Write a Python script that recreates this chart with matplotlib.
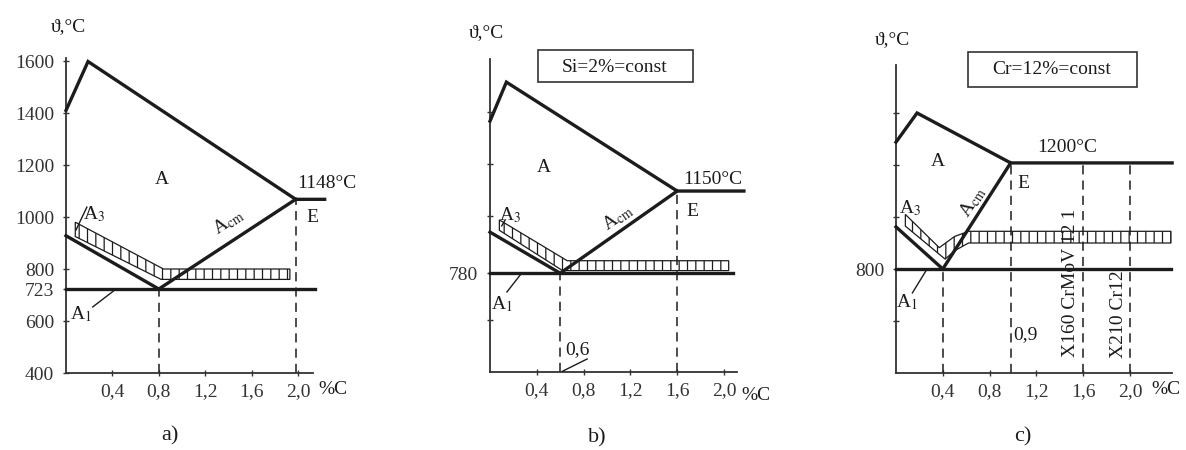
import matplotlib
matplotlib.use("Agg")
import matplotlib.pyplot as plt
from matplotlib.patches import Rectangle

plt.rcParams['font.family'] = ['Liberation Serif', 'DejaVu Serif']
plt.rcParams['mathtext.fontset'] = 'stix'
plt.rcParams['hatch.linewidth'] = 0.9

W, H = 1186, 450
PX_T = 0.26          # pixels per degree on every panel
FS = 14
INK = '#1c1c1c'
GREY = '#333333'
DASH = (0, (6, 4))

x_ticks = [0.4, 0.8, 1.2, 1.6, 2.0]
x_tick_labels = ['0,4', '0,8', '1,2', '1,6', '2,0']

# a) plain carbon steel
a_y_ticks = [400, 600, 723, 800, 1000, 1200, 1400, 1600]
a_y_labels = ['400', '600', '723', '800', '1000', '1200', '1400', '1600']
a_top_c = [0, 0.19, 1.98, 2.23]
a_top_t = [1410, 1598, 1068, 1068]
a_a3_c = [0, 0.8, 1.98]
a_a3_t = [928, 723, 1068]
a_a1_c = [0, 2.15]
a_a1_t = [723, 723]
a_dash_c = [0.8, 1.98]
a_dash_t = [723, 1068]
a_band_top_c = [0.08, 0.84, 1.93]
a_band_top_t = [980, 800, 800]
a_band_bot_c = [0.08, 0.82, 1.93]
a_band_bot_t = [925, 760, 760]

# b) Si = 2 %
b_y_ticks = [600, 780, 1000, 1200, 1400]
b_y_labels = ['', '780', '', '', '']
b_top_c = [0, 0.14, 1.6, 2.17]
b_top_t = [1365, 1515, 1096, 1096]
b_a3_c = [0, 0.6, 1.6]
b_a3_t = [938, 780, 1096]
b_a1_c = [0, 2.08]
b_a1_t = [780, 780]
b_dash_c = [0.6, 1.6]
b_dash_t = [780, 1096]
b_band_top_c = [0.08, 0.66, 2.04]
b_band_top_t = [985, 828, 828]
b_band_bot_c = [0.08, 0.62, 2.04]
b_band_bot_t = [945, 790, 790]

# c) Cr = 12 %
c_y_ticks = [600, 800, 1000, 1200, 1400]
c_y_labels = ['', '800', '', '', '']
c_top_c = [0, 0.18, 0.98, 2.36]
c_top_t = [1288, 1400, 1208, 1208]
c_a3_c = [0, 0.4, 0.98]
c_a3_t = [962, 800, 1208]
c_a1_c = [0, 2.35]
c_a1_t = [800, 800]
c_dash_c = [0.4, 0.98, 1.6, 2.0]
c_dash_t = [800, 1208, 1208, 1208]
c_band_top_c = [0.08, 0.37, 0.5, 0.62, 2.35]
c_band_top_t = [1010, 882, 925, 945, 945]
c_band_bot_c = [0.08, 0.42, 0.5, 0.62, 2.35]
c_band_bot_t = [965, 838, 870, 900, 900]

fig = plt.figure(figsize=(W / 100, H / 100), dpi=100)


def make_axes(x0, y0, px_c, xmax, ymax, yticks, ylabels):
    ax = fig.add_axes([x0 / W, (H - y0) / H, xmax * px_c / W, (ymax - 400) * PX_T / H])
    ax.set_xlim(0, xmax)
    ax.set_ylim(400, ymax)
    ax.patch.set_alpha(0)
    for s in ['top', 'right']:
        ax.spines[s].set_visible(False)
    for s in ['left', 'bottom']:
        ax.spines[s].set_linewidth(1.3)
        ax.spines[s].set_color(GREY)
    ax.set_xticks(x_ticks)
    ax.set_xticklabels(x_tick_labels)
    ax.set_yticks(yticks)
    ax.set_yticklabels(ylabels)
    ax.tick_params(direction='inout', length=5, width=1, labelsize=FS,
                   colors=GREY)
    ax.tick_params(axis='x', pad=5)
    ax.tick_params(axis='y', pad=6)
    return ax


def draw(ax, top_c, top_t, a3_c, a3_t, a1_c, a1_t, dash_c, dash_t,
         btc, btt, bbc, bbt):
    ax.fill(btc + bbc[::-1], btt + bbt[::-1], facecolor='white',
            edgecolor=INK, hatch='||', lw=0.9, zorder=2, clip_on=False)
    ax.vlines(dash_c, 400, dash_t, colors=INK, linestyles=DASH, lw=1.1, zorder=2)
    for c, t in [(top_c, top_t), (a3_c, a3_t), (a1_c, a1_t)]:
        ax.plot(c, t, color=INK, lw=2.4, clip_on=False, zorder=3,
                solid_joinstyle='miter')


def leader(ax, c, t):
    ax.plot(c, t, color=INK, lw=1.0, clip_on=False, zorder=3)


def label(ax, c, t, s, **kw):
    kw.setdefault('fontsize', FS)
    ax.text(c, t, s, ha='center', va='center', color=INK, **kw)


ACM = r'A$_{\mathrm{cm}}$'

# ---- a)
ax = make_axes(66, 373, 116, 2.13, 1612, a_y_ticks, a_y_labels)
draw(ax, a_top_c, a_top_t, a_a3_c, a_a3_t, a_a1_c, a_a1_t, a_dash_c, a_dash_t,
     a_band_top_c, a_band_top_t, a_band_bot_c, a_band_bot_t)
label(ax, 0.83, 1146, 'A')
label(ax, 1.40, 980, ACM, rotation=33)
label(ax, 0.24, 1012, r'A$_3$')
leader(ax, [0.086, 0.18], [950, 1038])
label(ax, 0.13, 625, r'A$_1$')
leader(ax, [0.23, 0.42], [654, 719])
label(ax, 2.12, 1000, 'E')
label(ax, 2.25, 1127, '1148°C')
label(ax, 2.30, 335, '%C')

# ---- b)
ax = make_axes(490, 372, 117, 2.11, 1605, b_y_ticks, b_y_labels)
draw(ax, b_top_c, b_top_t, b_a3_c, b_a3_t, b_a1_c, b_a1_t, b_dash_c, b_dash_t,
     b_band_top_c, b_band_top_t, b_band_bot_c, b_band_bot_t)
label(ax, 0.46, 1185, 'A')
label(ax, 1.09, 995, ACM, rotation=35)
label(ax, 0.17, 1002, r'A$_3$')
leader(ax, [0.10, 0.13], [962, 985])
label(ax, 0.10, 660, r'A$_1$')
leader(ax, [0.145, 0.27], [708, 780])
label(ax, 1.73, 1018, 'E')
label(ax, 1.90, 1140, '1150°C')
label(ax, 0.75, 487, '0,6')
leader(ax, [0.62, 0.83], [403, 450])
label(ax, 2.27, 310, '%C')
fig.patches.append(Rectangle((538 / W, 1 - 82 / H), 155 / W, 32 / H,
                             transform=fig.transFigure, fill=False,
                             edgecolor=GREY, lw=1.2))
fig.text(615 / W, 1 - 67 / H, 'Si=2%=const', ha='center', va='center',
         fontsize=FS, color=INK)

# ---- c)
ax = make_axes(896, 373, 117, 2.36, 1585, c_y_ticks, c_y_labels)
draw(ax, c_top_c, c_top_t, c_a3_c, c_a3_t, c_a1_c, c_a1_t, c_dash_c, c_dash_t,
     c_band_top_c, c_band_top_t, c_band_bot_c, c_band_bot_t)
label(ax, 0.36, 1212, 'A')
label(ax, 0.66, 1058, ACM, rotation=57)
label(ax, 0.12, 1035, r'A$_3$')
label(ax, 0.09, 673, r'A$_1$')
leader(ax, [0.14, 0.26], [708, 796])
label(ax, 1.09, 1130, 'E')
label(ax, 1.46, 1269, '1200°C')
label(ax, 1.11, 546, '0,9')
label(ax, 1.49, 746, 'X160 CrMoV 12 1', rotation=90)
label(ax, 1.90, 627, 'X210 Cr12', rotation=90)
label(ax, 2.31, 335, '%C')
fig.patches.append(Rectangle((968 / W, 1 - 87 / H), 169 / W, 35 / H,
                             transform=fig.transFigure, fill=False,
                             edgecolor=GREY, lw=1.2))
fig.text(1052 / W, 1 - 70 / H, 'Cr=12%=const', ha='center', va='center',
         fontsize=FS, color=INK)

# axis names and panel letters
for x, y in [(68, 27), (486, 33), (892, 40)]:
    fig.text(x / W, 1 - y / H, 'ϑ,°C', ha='center', va='center',
             fontsize=FS, color=INK)
for x, y, s in [(170, 436, 'a)'), (597, 438, 'b)'), (1023, 437, 'c)')]:
    fig.text(x / W, 1 - y / H, s, ha='center', va='center',
             fontsize=16, color=INK)

fig.savefig('out.png', dpi=100, facecolor='white')
